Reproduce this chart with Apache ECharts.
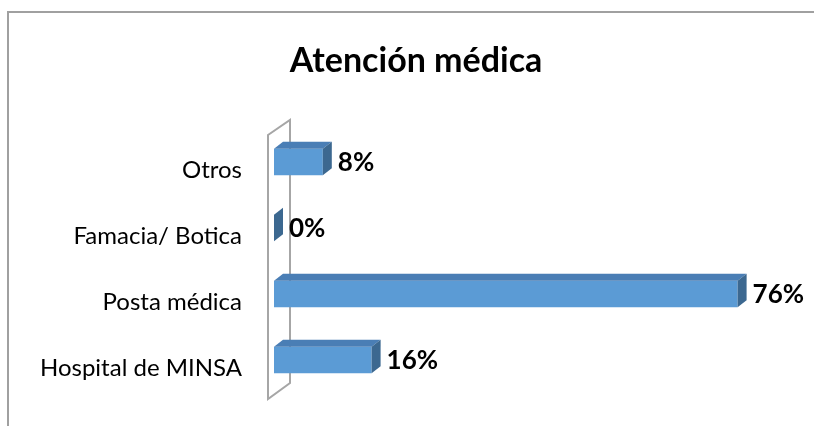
<!DOCTYPE html>
<html lang="es">
<head>
    <meta charset="UTF-8">
    <title>Atención médica</title>
    <script src="https://cdn.jsdelivr.net/npm/echarts@6/dist/echarts.min.js"></script>
    <style>
        html, body { margin: 0; padding: 0; background: #fff; }
    </style>
</head>
<body>
<div id="main" style="width: 814px;height:426px;"></div>
<script type="text/javascript">
    // datos del gráfico (de abajo hacia arriba)
    var categorias = ['Hospital de MINSA', 'Posta médica', 'Famacia/ Botica', 'Otros'];
    var porcentajes = [16, 76, 0, 8];

    var FUENTE = 'Lato, "Open Sans", sans-serif';
    // profundidad del efecto 3D
    var DX = 9, DY = 7;

    var myChart = echarts.init(document.getElementById('main'));

    function barra3d(params, api) {
        var v = api.value(0);
        var cat = api.value(1);
        var p0 = api.coord([0, cat]);
        var p1 = api.coord([v, cat]);
        var h = api.size([0, 1])[1] * 0.4;
        var cy = p0[1] - 8;
        var t = cy - h / 2, b = cy + h / 2;
        var x0 = p0[0], x1 = p1[0];
        var hijos = [];
        if (x1 - x0 > 0.5) {
            hijos.push({
                type: 'rect',
                shape: {x: x0, y: t, width: x1 - x0, height: h},
                style: {fill: '#5B9BD5'}
            });
            hijos.push({
                type: 'polygon',
                shape: {points: [[x0, t], [x0 + DX, t - DY], [x1 + DX, t - DY], [x1, t]]},
                style: {fill: '#4A7EB5'}
            });
        }
        hijos.push({
            type: 'polygon',
            shape: {points: [[x1, t], [x1 + DX, t - DY], [x1 + DX, b - DY], [x1, b]]},
            style: {fill: '#3C6890'}
        });
        hijos.push({
            type: 'text',
            style: {
                text: v + '%', x: x1 + DX + 6, y: cy + 1,
                verticalAlign: 'middle', fill: '#000',
                font: 'bold 26px ' + FUENTE
            }
        });
        return {type: 'group', children: hijos};
    }

    function pared(params, api) {
        var cs = params.coordSys;
        var xa = cs.x - 6, xb = cs.x + 16;
        var y0 = cs.y, y1 = cs.y + cs.height;
        return {
            type: 'polygon',
            shape: {points: [[xa, y0 - 2], [xb, y0 - 17], [xb, y1 - 18], [xa, y1 - 2]]},
            style: {fill: 'none', stroke: '#A6A6A6', lineWidth: 2}
        };
    }

    var option = {
        animation: false,
        title: {
            text: 'Atención médica',
            left: 411, top: 39, textAlign: 'center',
            textStyle: {fontFamily: FUENTE, fontWeight: 'bold', fontSize: 34, color: '#000'}
        },
        graphic: [
            {
                type: 'line', silent: true,
                shape: {x1: 8, y1: 12, x2: 814, y2: 12},
                style: {stroke: '#A0A0A0', lineWidth: 2}
            },
            {
                type: 'line', silent: true,
                shape: {x1: 8, y1: 11, x2: 8, y2: 426},
                style: {stroke: '#A0A0A0', lineWidth: 2}
            }
        ],
        grid: {left: 274, right: 52, top: 137, bottom: 25},
        xAxis: {
            type: 'value', min: 0, max: 80, show: false
        },
        yAxis: {
            type: 'category',
            data: categorias,
            axisLine: {show: false},
            axisTick: {show: false},
            axisLabel: {
                margin: 32, color: '#000',
                fontFamily: FUENTE, fontSize: 24
            }
        },
        series: [
            {
                type: 'custom',
                renderItem: pared,
                data: [[0]],
                z: 1
            },
            {
                type: 'custom',
                renderItem: barra3d,
                encode: {x: 0, y: 1},
                data: porcentajes.map(function (v, i) { return [v, i]; }),
                z: 2
            }
        ]
    };

    myChart.setOption(option);
</script>
</body>
</html>
